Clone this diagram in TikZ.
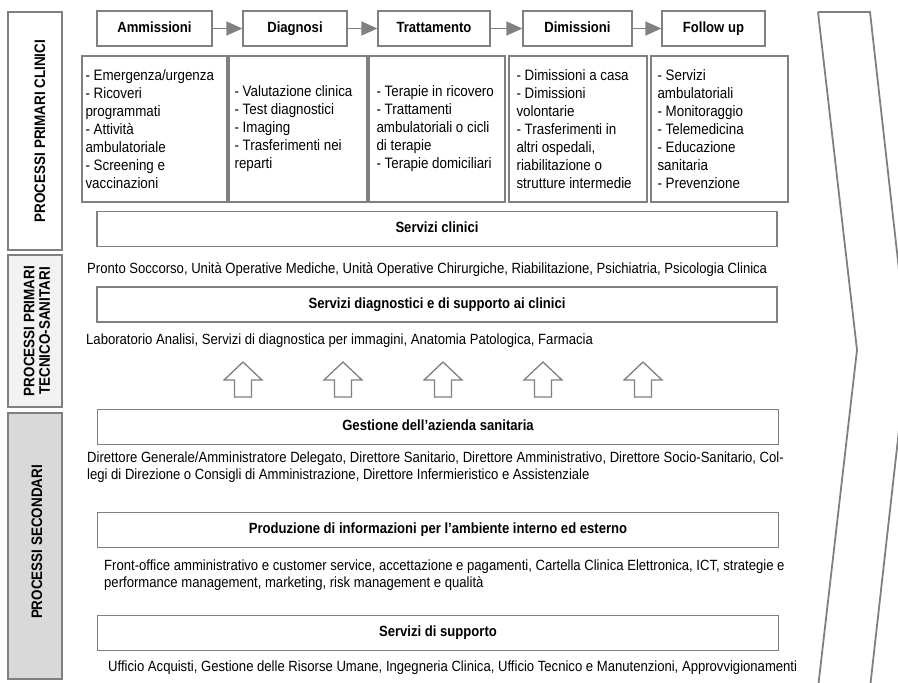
\documentclass[tikz,border=0pt]{standalone}
\usepackage{fontspec}
\setmainfont{Liberation Sans}[FakeStretch=0.885]
\usetikzlibrary{arrows.meta}
\definecolor{bordergray}{RGB}{128,128,128}
\definecolor{lightfill}{RGB}{242,242,242}
\definecolor{midfill}{RGB}{217,217,217}
\begin{document}
\begin{tikzpicture}[x=1pt,y=-1pt,
  sidebox/.style={draw=bordergray, line width=1.6pt, inner sep=0pt},
  sidelabel/.style={rotate=90, font=\fontsize{15.2}{15.5}\selectfont\bfseries, align=center, inner sep=0pt},
  procbox/.style={draw=bordergray, line width=1.3pt, fill=white, minimum height=35pt, inner sep=0pt, text height=10.5pt, text depth=3pt, font=\fontsize{14.8}{16}\selectfont\bfseries},
  listbox/.style={draw=bordergray, line width=1.3pt, fill=white, minimum height=146pt, inner sep=0pt},
  listtext/.style={anchor=west, align=left, inner sep=0pt, font=\fontsize{15.1}{18}\selectfont},
  widebox/.style={draw=bordergray, line width=1.3pt, fill=white, minimum width=680pt, minimum height=35pt, inner sep=0pt, text height=10.5pt, text depth=3pt, font=\fontsize{14.8}{16}\selectfont\bfseries},
  para/.style={anchor=west, align=left, inner sep=0pt, font=\fontsize{14.8}{17}\selectfont},
  flow/.style={draw=bordergray, line width=1.6pt, -{Triangle[length=16pt,width=14pt]}},
  hollow/.style={draw=bordergray, line width=1.3pt, fill=white, line join=miter},
  chev/.style={draw=bordergray, line width=1.8pt, line join=miter}
]
\useasboundingbox (0,0) rectangle (898,683);
\clip (0,0) rectangle (898,683);

% left column
\node[sidebox, fill=white, minimum width=54pt, minimum height=238pt] (s1) at (35,131) {};
\node[sidelabel] (s1l) at (40,131) {PROCESSI PRIMARI CLINICI};
\node[sidebox, fill=lightfill, minimum width=54pt, minimum height=152pt] (s2) at (35,331) {};
\node[sidelabel] (s2l) at (37,331) {PROCESSI PRIMARI\\TECNICO-SANITARI};
\node[sidebox, fill=midfill, minimum width=54pt, minimum height=266pt] (s3) at (35,546) {};
\node[sidelabel] (s3l) at (37,542) {PROCESSI SECONDARI};

% process row
\node[procbox, minimum width=115pt] (amm) at (154.5,28.5) {Ammissioni};
\node[procbox, minimum width=104pt] (dia) at (295,28.5) {Diagnosi};
\node[procbox, minimum width=112pt] (tra) at (434,28.5) {Trattamento};
\node[procbox, minimum width=109pt] (dim) at (577.5,28.5) {Dimissioni};
\node[procbox, minimum width=103pt] (fol) at (713.5,28.5) {Follow up};
\draw[flow] (amm) -- (dia);
\draw[flow] (dia) -- (tra);
\draw[flow] (tra) -- (dim);
\draw[flow] (dim) -- (fol);

% list boxes
\node[listbox, minimum width=145pt] (l1) at (154.5,129) {};
\node[listtext] (t1) at ([xshift=4pt]l1.west) {- Emergenza/urgenza\\- Ricoveri\\programmati\\- Attività\\ambulatoriale\\- Screening e\\vaccinazioni};
\node[listbox, minimum width=138pt] (l2) at (298,129) {};
\node[listtext] (t2) at ([xshift=6pt]l2.west) {- Valutazione clinica\\- Test diagnostici\\- Imaging\\- Trasferimenti nei\\reparti};
\node[listbox, minimum width=136pt] (l3) at (437,129) {};
\node[listtext] (t3) at ([xshift=8pt]l3.west) {- Terapie in ricovero\\- Trattamenti\\ambulatoriali o cicli\\di terapie\\- Terapie domiciliari};
\node[listbox, minimum width=138pt] (l4) at (578,129) {};
\node[listtext] (t4) at ([xshift=8pt]l4.west) {- Dimissioni a casa\\- Dimissioni\\volontarie\\- Trasferimenti in\\altri ospedali,\\riabilitazione o\\strutture intermedie};
\node[listbox, minimum width=137pt] (l5) at (719.5,129) {};
\node[listtext] (t5) at ([xshift=7pt]l5.west) {- Servizi\\ambulatoriali\\- Monitoraggio\\- Telemedicina\\- Educazione\\sanitaria\\- Prevenzione};

% wide boxes and paragraphs
\node[widebox] (sc) at (437,229) {Servizi clinici};
\node[para] (pc) at (87,270) {Pronto Soccorso, Unità Operative Mediche, Unità Operative Chirurgiche, Riabilitazione, Psichiatria, Psicologia Clinica};
\node[widebox] (sd) at (437,304.5) {Servizi diagnostici e di supporto ai clinici};
\node[para] (pd) at (86,341) {Laboratorio Analisi, Servizi di diagnostica per immagini, Anatomia Patologica, Farmacia};

% hollow up arrows
\foreach \ax in {243,343,443,543,643}{
  \draw[hollow] (\ax,362) -- (\ax+19,380) -- (\ax+8.5,380) -- (\ax+8.5,397) -- (\ax-8.5,397) -- (\ax-8.5,380) -- (\ax-19,380) -- cycle;
}

\node[widebox, minimum width=681pt] (ga) at (438,427) {Gestione dell’azienda sanitaria};
\node[para] (pg) at (87,467.5) {Direttore Generale/Amministratore Delegato, Direttore Sanitario, Direttore Amministrativo, Direttore Socio-Sanitario, Col-\\legi di Direzione o Consigli di Amministrazione, Direttore Infermieristico e Assistenziale};
\node[widebox, minimum width=681pt] (pi) at (438,530) {Produzione di informazioni per l’ambiente interno ed esterno};
\node[para] (pp) at (104,575.5) {Front-office amministrativo e customer service, accettazione e pagamenti, Cartella Clinica Elettronica, ICT, strategie e\\performance management, marketing, risk management e qualità};
\node[widebox, minimum width=681pt] (ss) at (438,633) {Servizi di supporto};
\node[para] (ps) at (108,668) {Ufficio Acquisti, Gestione delle Risorse Umane, Ingegneria Clinica, Ufficio Tecnico e Manutenzioni, Approvvigionamenti};

% chevron
\draw[chev] (818,12) -- (870,12) -- (908,350) -- (870,688);
\draw[chev] (818,12) -- (857,350) -- (818,688);
\end{tikzpicture}
\end{document}
